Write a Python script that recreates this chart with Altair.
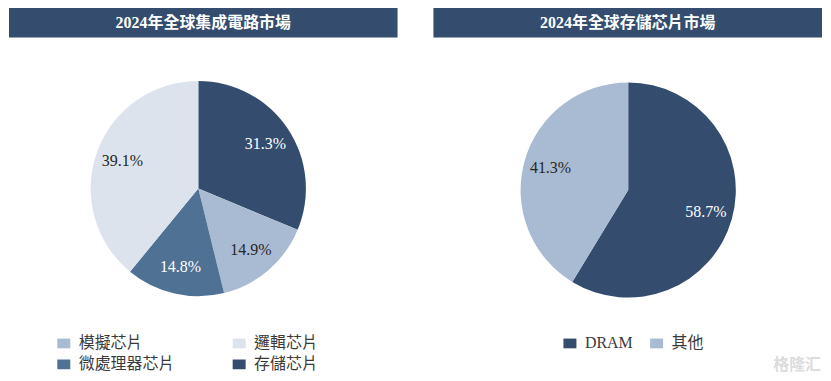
import altair as alt
import pandas as pd

# ---- data ----
title_left = "2024年全球集成電路市場"
title_right = "2024年全球存儲芯片市場"

ic_categories = ["存儲芯片", "模擬芯片", "微處理器芯片", "邏輯芯片"]
ic_values = [31.3, 14.9, 14.8, 39.1]
ic_legend_order = ["模擬芯片", "微處理器芯片", "邏輯芯片", "存儲芯片"]
ic_colors = ["#a9bbd2", "#4e7194", "#dde3ed", "#344d6e"]

mem_categories = ["DRAM", "其他"]
mem_values = [58.7, 41.3]
mem_colors = ["#344d6e", "#a9bbd2"]

dark_slices = ["存儲芯片", "微處理器芯片", "DRAM"]
watermark = "格隆汇"

SERIF = "Liberation Serif, Noto Sans CJK TC"
BANNER = "#344d6e"

ic_df = pd.DataFrame({"cat": ic_categories, "val": ic_values,
                      "idx": list(range(len(ic_categories)))})
ic_df["label"] = [f"{v:.1f}%" for v in ic_values]
mem_df = pd.DataFrame({"cat": mem_categories, "val": mem_values,
                       "idx": list(range(len(mem_categories)))})
mem_df["label"] = [f"{v:.1f}%" for v in mem_values]

label_color = alt.condition(
    "indexof(" + str(dark_slices) + ", datum.cat) >= 0",
    alt.value("white"), alt.value("#262626"))


def banner(title, x0, x1):
    d = pd.DataFrame({"t": [title]})
    rect = alt.Chart(d).mark_rect(color=BANNER).encode(
        x=alt.value(x0), x2=alt.value(x1), y=alt.value(-1), y2=alt.value(29))
    txt = alt.Chart(d).mark_text(font=SERIF, fontSize=16, fontWeight="bold",
                                 color="white", baseline="middle").encode(
        text="t:N", x=alt.value((x0 + x1) / 2), y=alt.value(14.5))
    return rect, txt


def pie(df, cx, cy, domain, colors, legend):
    arc = alt.Chart(df).mark_arc(radius=108).encode(
        theta=alt.Theta("val:Q", stack=True),
        order=alt.Order("idx:O"),
        fill=alt.Fill("cat:N", scale=alt.Scale(domain=domain, range=colors),
                      legend=legend),
        x=alt.value(cx), y=alt.value(cy))
    txt = alt.Chart(df).mark_text(radius=81, font=SERIF, fontSize=16,
                                  baseline="middle").encode(
        theta=alt.Theta("val:Q", stack=True),
        order=alt.Order("idx:O"),
        text="label:N",
        color=label_color,
        x=alt.value(cx), y=alt.value(cy))
    return arc, txt


common_legend = dict(orient="none", title=None, symbolType="M-1,-0.75H1V0.75H-1Z",
                     symbolSize=170, symbolStrokeWidth=0, labelFont=SERIF,
                     labelFontSize=16, labelColor="#3a3a3a", labelOffset=7,
                     symbolOpacity=1)

leg_left = alt.Legend(legendX=48, legendY=328, columns=2, columnPadding=56,
                      rowPadding=5, **common_legend)
leg_right = alt.Legend(legendX=556, legendY=328, direction="horizontal",
                       columnPadding=15, **common_legend)

b1r, b1t = banner(title_left, 1, 391)
b2r, b2t = banner(title_right, 427, 817)
a1, t1 = pie(ic_df, 191, 180.5, ic_legend_order, ic_colors, leg_left)
a2, t2 = pie(mem_df, 622.5, 182, mem_categories, mem_colors, leg_right)

wm = alt.Chart(pd.DataFrame({"t": [watermark]})).mark_text(
    font="Noto Sans CJK SC", fontSize=16, fontWeight="bold", color="#dcdcdc",
    baseline="middle").encode(text="t:N", x=alt.value(792), y=alt.value(358))

chart = alt.layer(b1r, b1t, b2r, b2t, a1, t1, a2, t2, wm).resolve_scale(
    theta="independent", fill="independent", color="independent"
).properties(
    width=818, height=370, padding=0, autosize="none"
).configure_view(stroke=None)

chart.save("out.html", embed_options={"renderer": "svg", "actions": False})
